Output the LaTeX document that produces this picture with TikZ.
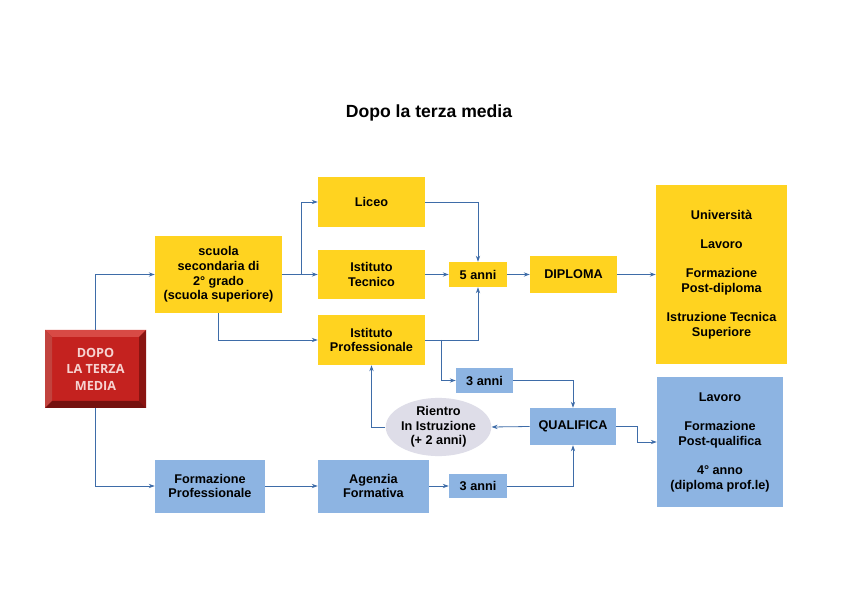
\documentclass[tikz,border=0pt]{standalone}
\usepackage{fontspec}
\setmainfont{Liberation Sans}
\newfontfamily\rossofont{Open Sans}
\usetikzlibrary{arrows.meta,shapes.geometric}
\definecolor{giallo}{HTML}{FFD320}
\definecolor{azzurro}{HTML}{8DB4E2}
\definecolor{linea}{HTML}{3E6CA8}
\definecolor{grigio}{HTML}{DEDDE8}
\definecolor{rossoface}{HTML}{C4221F}
\definecolor{rossochiaro}{HTML}{D84A45}
\definecolor{rossoscuro}{HTML}{8A1411}
\definecolor{rossotesto}{HTML}{F6D3D1}

\begin{document}
\begin{tikzpicture}[x=0.75pt,y=-0.75pt,
		font=\fontsize{9.5}{11}\selectfont\bfseries,
		wh/.style 2 args={minimum width=#1*0.75pt,minimum height=#2*0.75pt},
		gbox/.style={fill=giallo,align=center,inner sep=0pt},
		bbox/.style={fill=azzurro,align=center,inner sep=0pt},
		conn/.style={draw=linea,line width=0.6pt,-{Stealth[length=4.5pt,width=3.2pt]}}]
		\useasboundingbox[fill=white](0,0)rectangle(846,598);
		\node[font=\fontsize{13.2}{15}\selectfont\bfseries](titolo)at(429,113){Dopo la terza media};
		\fill[rossoface](45,330)rectangle(146,408);
		\fill[rossochiaro](45,330)--(146,330)--(139,337)--(52,337)--cycle;
		\fill[rossochiaro!90!black](45,330)--(52,337)--(52,401)--(45,408)--cycle;
		\fill[rossoscuro](146,330)--(146,408)--(139,401)--(139,337)--cycle;
		\fill[rossoscuro!85!black](45,408)--(146,408)--(139,401)--(52,401)--cycle;
		\node[wh={101}{78},align=center,text=rossotesto,font=\rossofont\fontsize{9.5}{12.4}\selectfont\bfseries](dopo)at(95.5,369){DOPO\\LA TERZA\\MEDIA};
		\node[gbox,wh={127}{77}](scuola)at(218.5,274.5){scuola\\secondaria di\\2° grado\\(scuola superiore)};
		\node[gbox,wh={107}{50}](liceo)at(371.5,202){Liceo};
		\node[gbox,wh={107}{49}](tecnico)at(371.5,274.5){Istituto\\Tecnico};
		\node[gbox,wh={107}{50}](professionale)at(371.5,340){Istituto\\Professionale};
		\node[gbox,wh={58}{25}](cinque)at(478,274.5){5 anni};
		\node[gbox,wh={87}{37}](diploma)at(573.5,274.5){DIPLOMA};
		\node[gbox,wh={131}{179}](dopodiploma)at(721.5,274.5){Università\\[11pt]Lavoro\\[11pt]Formazione\\Post-diploma\\[11pt]Istruzione Tecnica\\Superiore};
		\node[bbox,wh={57}{25}](treanniA)at(484.5,380.5){3 anni};
		\node[bbox,wh={86}{37}](qualifica)at(573,426.5){QUALIFICA};
		\node[ellipse,fill=grigio,align=center,inner sep=0pt,wh={103}{54}](rientro)at(438.5,427){Rientro\\In Istruzione\\(+ 2 anni)};
		\node[bbox,wh={126}{130}](dopoqualifica)at(720,442){Lavoro\\[11pt]Formazione\\Post-qualifica\\[11pt]4° anno\\(diploma prof.le)};
		\node[bbox,wh={110}{53}](formprof)at(210,486){Formazione\\Professionale};
		\node[bbox,wh={111}{53}](agenzia)at(373.5,486){Agenzia\\Formativa};
		\node[bbox,wh={58}{24}](treanniB)at(478,486){3 anni};
		\coordinate(bivio)at(301,274.5);
		\coordinate(bivioprof)at(441,340);
		\coordinate(gomito)at(637,426.5);
		\draw[conn](dopo.north)|-(scuola.west);
		\draw[conn](dopo.south)|-(formprof.west);
		\draw[conn](scuola.east)--(tecnico.west);
		\draw[conn](bivio)|-(liceo.west);
		\draw[conn](scuola.south)|-(professionale.west);
		\draw[conn](liceo.east)-|(cinque.north);
		\draw[conn](tecnico.east)--(cinque.west);
		\draw[conn](professionale.east)-|(cinque.south);
		\draw[conn](cinque.east)--(diploma.west);
		\draw[conn](diploma.east)--(dopodiploma.west);
		\draw[conn](bivioprof)|-(treanniA.west);
		\draw[conn](treanniA.east)-|(qualifica.north);
		\draw[conn](qualifica.west)--(rientro.east);
		\draw[conn](rientro.west)-|(professionale.south);
		\draw[conn](qualifica.east)--(gomito)|-(dopoqualifica.west);
		\draw[conn](formprof.east)--(agenzia.west);
		\draw[conn](agenzia.east)--(treanniB.west);
		\draw[conn](treanniB.east)-|(qualifica.south);
		\end{tikzpicture}
\end{document}
